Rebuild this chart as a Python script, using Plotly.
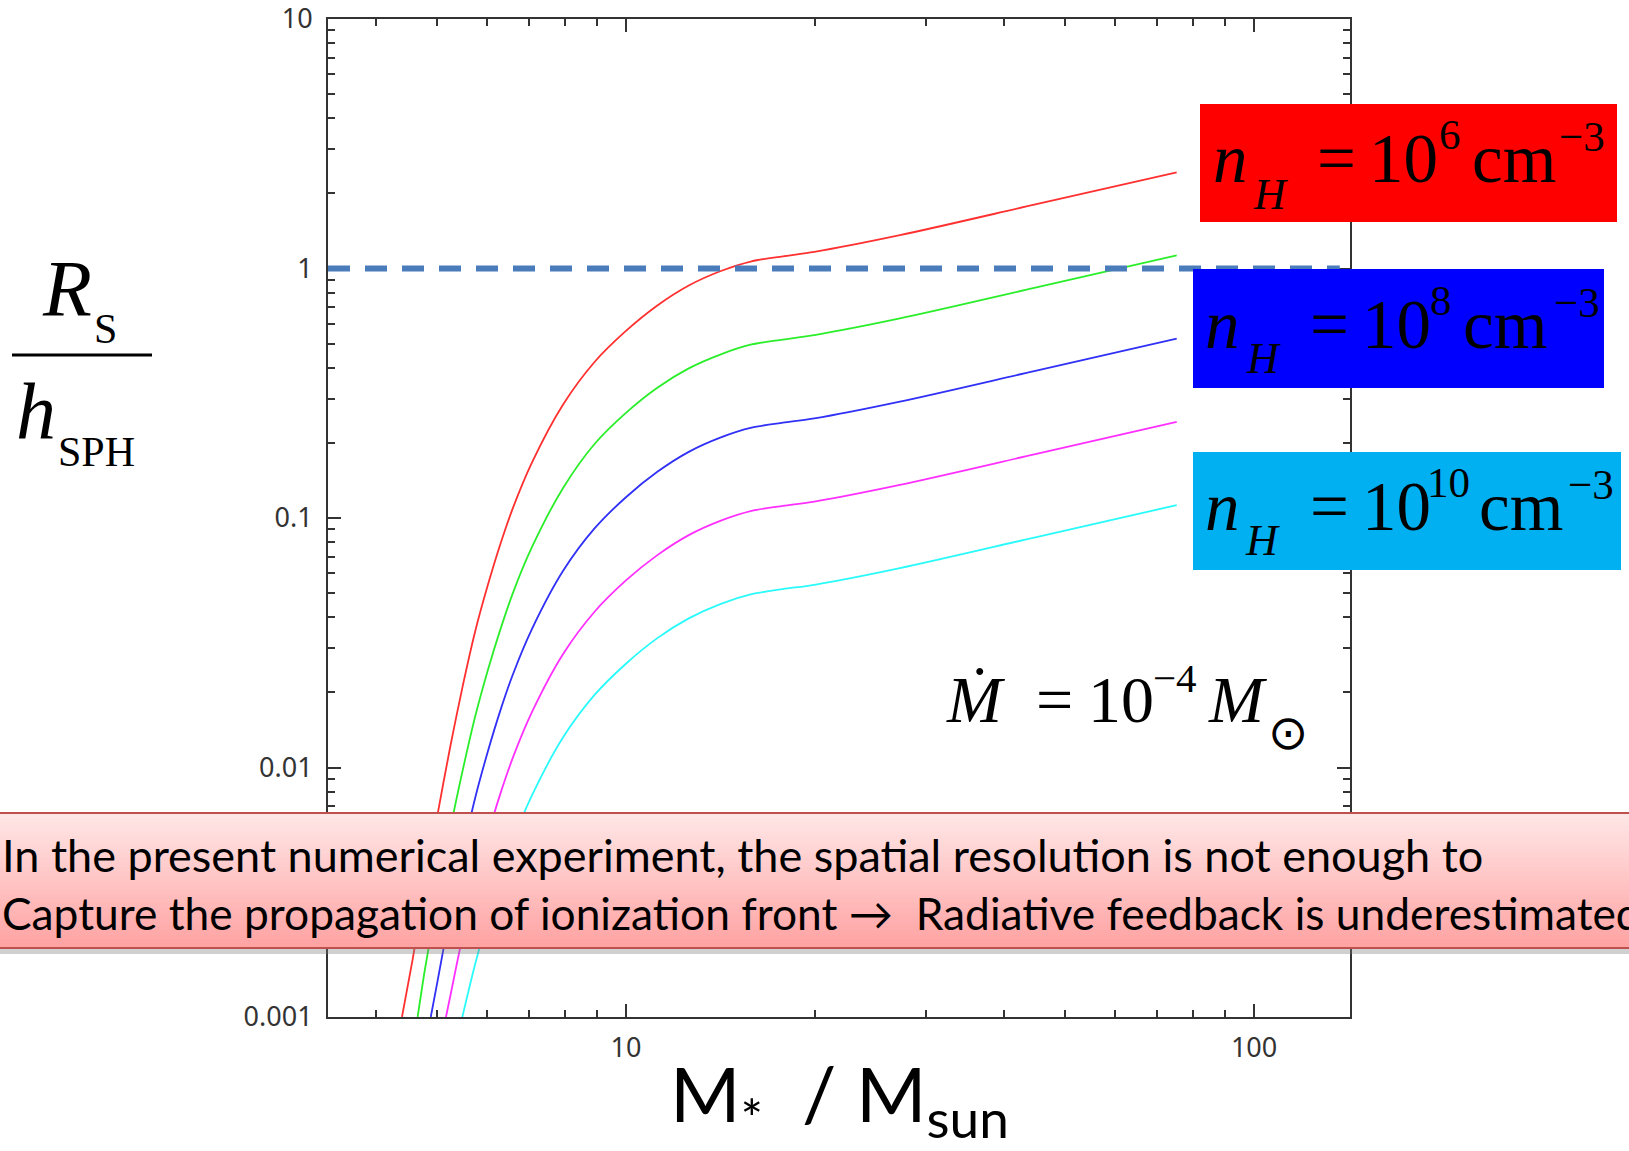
import plotly.graph_objects as go

# Stellar mass (M_sun) and Strömgren radius over SPH smoothing length, one curve per density
mass_n6 = [4.40, 4.571, 4.786, 5.012, 5.248, 5.495, 5.754, 6.026, 6.310, 6.607, 7.079, 7.943, 8.913,
           10.0, 11.22, 12.59, 14.13, 15.85, 17.78, 19.95, 27.3, 44.67, 75.3]
ratio_n6 = [0.001, 0.00168, 0.00331, 0.00646, 0.0120, 0.0211, 0.0351, 0.0537, 0.0785, 0.1096, 0.166, 0.285, 0.422,
            0.562, 0.711, 0.855, 0.975, 1.069, 1.119, 1.166, 1.360, 1.802, 2.43]

mass_n7 = [4.66, 4.786, 5.012, 5.248, 5.495, 5.754, 6.026, 6.310, 6.607, 7.079, 7.943, 8.913,
           10.0, 11.22, 12.59, 14.13, 15.85, 17.78, 19.95, 27.3, 44.67, 75.3]
ratio_n7 = [0.001, 0.00155, 0.00300, 0.00560, 0.0097, 0.0160, 0.0245, 0.0357, 0.0500, 0.0760, 0.1320, 0.1980,
            0.2640, 0.333, 0.398, 0.452, 0.496, 0.519, 0.541, 0.631, 0.836, 1.13]

mass_n8 = [4.89, 5.012, 5.248, 5.495, 5.754, 6.026, 6.310, 6.607, 7.079, 7.943, 8.913,
           10.0, 11.22, 12.59, 14.13, 15.85, 17.78, 19.95, 27.3, 44.67, 75.3]
ratio_n8 = [0.001, 0.00139, 0.00259, 0.00455, 0.00755, 0.01156, 0.0169, 0.0236, 0.0357, 0.0614, 0.0908,
            0.1211, 0.1531, 0.1841, 0.2099, 0.2301, 0.2410, 0.2508, 0.2928, 0.388, 0.523]

mass_n9 = [5.17, 5.248, 5.495, 5.754, 6.026, 6.310, 6.607, 7.079, 7.943, 8.913,
           10.0, 11.22, 12.59, 14.13, 15.85, 17.78, 19.95, 27.3, 44.67, 75.3]
ratio_n9 = [0.001, 0.00120, 0.00211, 0.00350, 0.00536, 0.00784, 0.01095, 0.01658, 0.0285, 0.0421,
            0.0562, 0.0710, 0.0854, 0.0974, 0.1068, 0.1118, 0.1164, 0.1358, 0.1799, 0.2427]

mass_n10 = [5.49, 5.754, 6.026, 6.310, 6.607, 7.079, 7.943, 8.913,
            10.0, 11.22, 12.59, 14.13, 15.85, 17.78, 19.95, 27.3, 44.67, 75.3]
ratio_n10 = [0.001, 0.00163, 0.00249, 0.00364, 0.00508, 0.00769, 0.01321, 0.01954,
             0.02606, 0.0330, 0.0396, 0.0452, 0.0495, 0.0519, 0.0540, 0.0630, 0.0835, 0.1126]

resolution_limit = 1.0

x_tick_vals = [10, 100]
x_tick_text = ["10", "100"]
y_tick_vals = [0.001, 0.01, 0.1, 1, 10]
y_tick_text = ["0.001", "0.01", "0.1", "1", "10"]
x_minor = [4, 5, 6, 7, 8, 9, 20, 30, 40, 50, 60, 70, 80, 90]
y_minor = [m * d for d in (0.001, 0.01, 0.1, 1) for m in range(2, 10)]

series = [
    (mass_n6, ratio_n6, "#ff3030"),
    (mass_n7, ratio_n7, "#2aee2a"),
    (mass_n8, ratio_n8, "#3030f6"),
    (mass_n9, ratio_n9, "#ff30ff"),
    (mass_n10, ratio_n10, "#2afafa"),
]

# density labels: exponent of n_H, box colour
density_labels = [("6", "#ff0000"), ("8", "#0000ff"), ("10", "#00b0f0")]

W, H = 1629, 1151
L, R, T, B = 328, 1350, 19, 1017


def px(X):
    return (X - L) / (R - L)


def py(Y):
    return (B - Y) / (B - T)


fig = go.Figure()
for xs, ys, col in series:
    fig.add_trace(go.Scatter(x=xs, y=ys, mode="lines",
                             line=dict(color=col, width=1.8, shape="spline", smoothing=0.8),
                             hoverinfo="skip"))

axis_common = dict(
    type="log", showgrid=False, zeroline=False,
    showline=True, linecolor="#333333", linewidth=2, mirror="ticks",
    ticks="inside", ticklen=13, tickwidth=2, tickcolor="#333333",
    ticklabeloverflow="allow",
    tickfont=dict(family="Noto Sans", size=27, color="#333333"),
)

fig.update_layout(
    width=W, height=H,
    margin=dict(l=L, r=W - R, t=T, b=H - B, autoexpand=False),
    paper_bgcolor="white", plot_bgcolor="white",
    showlegend=False,
    xaxis=dict(axis_common, range=[0.5257, 2.1527],
               tickvals=x_tick_vals, ticktext=x_tick_text, ticklabelstandoff=6,
               minor=dict(tickvals=x_minor, ticks="inside", ticklen=7,
                          tickwidth=2, tickcolor="#333333")),
    yaxis=dict(axis_common, range=[-3, 1],
               tickvals=y_tick_vals, ticktext=y_tick_text, ticklabelstandoff=8,
               minor=dict(tickvals=y_minor, ticks="inside", ticklen=7,
                          tickwidth=2, tickcolor="#333333")),
)

shapes = []
# dashed threshold R_S = h_SPH
shapes.append(dict(type="line", xref="paper", yref="y", x0=0, x1=0.99,
                   y0=resolution_limit, y1=resolution_limit, layer="above",
                   line=dict(color="#4a7bbb", width=6, dash="22px,15px")))

# density label boxes (left, right, top, bottom in pixels)
box_geom = [(1200, 1617, 104, 222), (1193, 1604, 269, 388), (1193, 1621, 452, 570)]
for (x0, x1, y0, y1), (_, col) in zip(box_geom, density_labels):
    shapes.append(dict(type="rect", xref="paper", yref="paper",
                       x0=px(x0), x1=px(x1), y0=py(y1), y1=py(y0),
                       fillcolor=col, line=dict(width=0), layer="above"))

# banner: soft shadow, vertical pink gradient, border
ban_top, ban_bot = 813, 948
shapes.append(dict(type="rect", xref="paper", yref="paper",
                   x0=px(-20), x1=px(1660), y0=py(ban_bot + 6), y1=py(ban_bot),
                   fillcolor="rgba(120,120,120,0.35)", line=dict(width=0), layer="above"))
n_steps = 30
c_top = (255, 230, 230)
c_bot = (255, 163, 163)
for i in range(n_steps):
    t = i / (n_steps - 1)
    c = tuple(round(a + (b - a) * t) for a, b in zip(c_top, c_bot))
    y_a = ban_top + (ban_bot - ban_top) * i / n_steps
    y_b = ban_top + (ban_bot - ban_top) * (i + 1) / n_steps
    shapes.append(dict(type="rect", xref="paper", yref="paper",
                       x0=px(-20), x1=px(1660), y0=py(y_b + 0.6), y1=py(y_a),
                       fillcolor="rgb(%d,%d,%d)" % c, line=dict(width=0), layer="above"))
shapes.append(dict(type="rect", xref="paper", yref="paper",
                   x0=px(-3), x1=px(1660), y0=py(ban_bot), y1=py(ban_top),
                   fillcolor="rgba(0,0,0,0)", line=dict(color="#c0504d", width=2), layer="above"))

# fraction bar of the y label
shapes.append(dict(type="line", xref="paper", yref="paper",
                   x0=px(12), x1=px(152), y0=py(355), y1=py(355),
                   line=dict(color="black", width=3), layer="above"))
fig.update_layout(shapes=shapes)

serif = "Liberation Serif"
ann = []


def text(X, Y, s, size, family=serif, xanchor="left", yanchor="middle"):
    ann.append(dict(xref="paper", yref="paper", x=px(X), y=py(Y), text=s,
                    showarrow=False, xanchor=xanchor, yanchor=yanchor,
                    font=dict(family=family, size=size, color="black")))


def mid(baseline, size):
    # vertical centre of a single-line serif text box for a given baseline
    return baseline - 0.3375 * size


# y axis label: R_S / h_SPH
text(40, 289, "<i>R</i>", 80)
text(92, 329, "S", 42)
text(14, 411, "<i>h</i>", 80)
text(56, 452, "SPH", 42)

# density labels: n_H = 10^k cm^-3
F_MAIN, F_SUB, F_SUP = 69, 44, 43
label_layout = [
    # n_x, H_x, eq_x, ten_x, exp_x, cm_x, m3_x, baseline, H_baseline
    (1211, 1251, 1315, 1367, 1437, 1470, 1557, 182, 209),
    (1203, 1244, 1308, 1360, 1428, 1461, 1552, 348, 373),
    (1203, 1243, 1308, 1360, 1425, 1477, 1566, 530, 555),
]
for (expo, _), (nx, hx, ex, tx, sx, cx, mx, base, hbase) in zip(density_labels, label_layout):
    text(nx, mid(base, F_MAIN), "<i>n</i>", F_MAIN)
    text(hx, mid(hbase, F_SUB), "<i>H</i>", F_SUB)
    text(ex, mid(base, F_MAIN), "=", F_MAIN)
    text(tx, mid(base, F_MAIN), "10", F_MAIN)
    text(sx, mid(base - 33, F_SUP), expo, F_SUP)
    text(cx, mid(base, F_MAIN), "cm", F_MAIN)
    text(mx, mid(base - 31, F_SUP), "\u22123", F_SUP)

# accretion rate: Mdot = 10^-4 M_sun
text(944, mid(722, 66), "<i>\u1e40</i>", 66)
text(1034, mid(722, 66), "=", 66)
text(1086, mid(722, 66), "10", 66)
text(1151, mid(692, 41), "\u22124", 41)
text(1206, mid(722, 66), "<i>M</i>", 66)
text(1266, 732, "\u2299", 48, family="DejaVu Sans")

# banner text
text(0, 855, "In the present numerical experiment, the spatial resolution is not enough to", 45, family="Lato")
text(0, 912, "Capture the propagation of ionization front \u2192\u00a0 Radiative feedback is underestimated", 44.3, family="Lato")

# x axis title
text(668, 1098, "M<sub>*</sub>\u00a0 / M<sub>sun</sub>", 76, family="Lato")

fig.update_layout(annotations=ann)
fig.write_html("out.html")
